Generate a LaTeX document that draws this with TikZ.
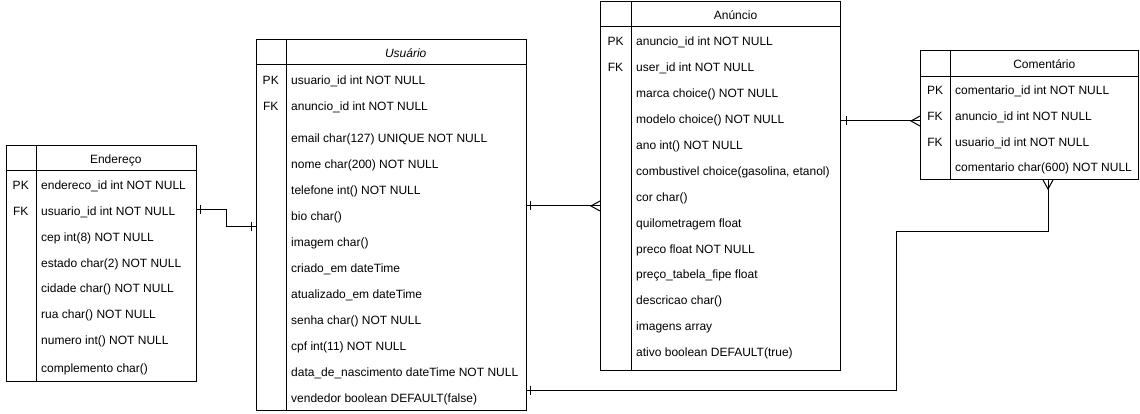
\documentclass[tikz,border=0pt]{standalone}
\usepackage{fontspec}
\setmainfont{Liberation Sans}
\usepackage{tikz}
\usetikzlibrary{
  calc,
  positioning
}
\newcommand{\erfont}{\fontsize{12pt}{14pt}\selectfont}
\tikzset{
  tbl/.style={draw, line width=1pt, anchor=north west, inner sep=0pt},
  sepline/.style={line width=1pt},
  hdr/.style={font=\erfont, inner sep=0pt, text height=10.5pt, text depth=0pt},
  keycell/.style={font=\erfont, inner sep=0pt, text height=10.5pt, text depth=0pt},
  field/.style={font=\erfont, anchor=west, inner sep=0pt, text height=10.5pt, text depth=0pt},
  conn/.style={line width=1pt},
  erone/.pic={\draw[conn] (0,-4.5) -- (0,4.5);},
  ermany/.pic={\draw[conn] (0,-5) -- (-9,0) -- (0,5);}
}

\begin{document}
\begin{tikzpicture}[x=1pt, y=-1pt]
  \useasboundingbox (0,0) rectangle (1140,414);

  % Endereco table
  \node[tbl, minimum width=190pt, minimum height=235.5pt] (endereco) at (5.5,145) {};
  \draw[sepline] ([yshift=-26pt]endereco.north west) -- ([yshift=-26pt]endereco.north east)
                 ([xshift=30.5pt]endereco.north west) -- ([xshift=30.5pt]endereco.south west);
  \node[hdr] (endereco-title) at (115.75,158) {Endereço};
  \node[keycell] (e1k) at (20.75,184) {PK};
  \node[keycell] (e2k) at (20.75,210) {FK};
  \node[field] (e1) at (41,184) {endereco\_id int NOT NULL};
  \node[field] (e2) at (41,210) {usuario\_id int NOT NULL};
  \node[field] (e3) at (41,236) {cep int(8) NOT NULL};
  \node[field] (e4) at (41,262) {estado char(2) NOT NULL};
  \node[field] (e5) at (41,287.5) {cidade char() NOT NULL};
  \node[field] (e6) at (41,313.5) {rua char() NOT NULL};
  \node[field] (e7) at (41,339.5) {numero int() NOT NULL};
  \node[field] (e8) at (41,367) {complemento char()};

  % Usuario table
  \node[tbl, minimum width=270pt, minimum height=371pt] (usuario) at (255.5,39) {};
  \draw[sepline] ([yshift=-26pt]usuario.north west) -- ([yshift=-26pt]usuario.north east)
                 ([xshift=30.5pt]usuario.north west) -- ([xshift=30.5pt]usuario.south west);
  \node[hdr, font=\erfont\itshape] (usuario-title) at (405.75,52) {Usuário};
  \node[keycell] (u1k) at (270.75,79) {PK};
  \node[keycell] (u2k) at (270.75,105) {FK};
  \node[field] (u1) at (291,79) {usuario\_id int NOT NULL};
  \node[field] (u2) at (291,105) {anuncio\_id int NOT NULL};
  \node[field] (u3) at (291,137) {email char(127) UNIQUE NOT NULL};
  \node[field] (u4) at (291,163) {nome char(200) NOT NULL};
  \node[field] (u5) at (291,189) {telefone int() NOT NULL};
  \node[field] (u6) at (291,215) {bio char()};
  \node[field] (u7) at (291,241) {imagem char()};
  \node[field] (u8) at (291,267) {criado\_em dateTime};
  \node[field] (u9) at (291,293) {atualizado\_em dateTime};
  \node[field] (u10) at (291,319) {senha char() NOT NULL};
  \node[field] (u11) at (291,345) {cpf int(11) NOT NULL};
  \node[field] (u12) at (291,371) {data\_de\_nascimento dateTime NOT NULL};
  \node[field] (u13) at (291,397) {vendedor boolean DEFAULT(false)};

  % Anuncio table
  \node[tbl, minimum width=240pt, minimum height=369pt] (anuncio) at (600,1) {};
  \draw[sepline] ([yshift=-26pt]anuncio.north west) -- ([yshift=-26pt]anuncio.north east)
                 ([xshift=31pt]anuncio.north west) -- ([xshift=31pt]anuncio.south west);
  \node[hdr] (anuncio-title) at (735.5,14) {Anúncio};
  \node[keycell] (a1k) at (615.5,40) {PK};
  \node[keycell] (a2k) at (615.5,66) {FK};
  \node[field] (a1) at (636,40) {anuncio\_id int NOT NULL};
  \node[field] (a2) at (636,66) {user\_id int NOT NULL};
  \node[field] (a3) at (636,92) {marca choice() NOT NULL};
  \node[field] (a4) at (636,118) {modelo choice() NOT NULL};
  \node[field] (a5) at (636,144) {ano int() NOT NULL};
  \node[field] (a6) at (636,170) {combustivel choice(gasolina, etanol)};
  \node[field] (a7) at (636,196) {cor char()};
  \node[field] (a8) at (636,222) {quilometragem float};
  \node[field] (a9) at (636,248) {preco float NOT NULL};
  \node[field] (a10) at (636,273) {preço\_tabela\_fipe float};
  \node[field] (a11) at (636,299) {descricao char()};
  \node[field] (a12) at (636,325) {imagens array};
  \node[field] (a13) at (636,351) {ativo boolean DEFAULT(true)};

  % Comentario table
  \node[tbl, minimum width=218pt, minimum height=128.5pt] (comentario) at (920,50.5) {};
  \draw[sepline] ([yshift=-26pt]comentario.north west) -- ([yshift=-26pt]comentario.north east)
                 ([xshift=30.5pt]comentario.north west) -- ([xshift=30.5pt]comentario.south west);
  \node[hdr] (comentario-title) at (1044.25,63.5) {Comentário};
  \node[keycell] (c1k) at (935,89) {PK};
  \node[keycell] (c2k) at (935,115) {FK};
  \node[keycell] (c3k) at (935,141) {FK};
  \node[field] (c1) at (955,89) {comentario\_id int NOT NULL};
  \node[field] (c2) at (955,115) {anuncio\_id int NOT NULL};
  \node[field] (c3) at (955,141) {usuario\_id int NOT NULL};
  \node[field] (c4) at (955,166) {comentario char(600) NOT NULL};

  % Relations
  \draw[conn] (endereco.east |- e2) -| (226,226) -- (usuario.west |- 0,226);
  \pic at ($(endereco.east |- e2)+(4,0)$) {erone};
  \pic at ($(usuario.west |- 0,226)+(-4,0)$) {erone};

  \draw[conn] (usuario.east |- 0,206) -- (anuncio.west |- 0,206);
  \pic at ($(usuario.east |- 0,206)+(4,0)$) {erone};
  \pic at (anuncio.west |- 0,206) {ermany};

  \draw[conn] (anuncio.east |- 0,121) -- (comentario.west |- 0,121);
  \pic at ($(anuncio.east |- 0,121)+(5,0)$) {erone};
  \pic at (comentario.west |- 0,121) {ermany};

  \draw[conn] (comentario.south -| 1048,0) |- (896,231) |- (usuario.east |- 0,390);
  \pic[rotate=90] at (comentario.south -| 1048,0) {ermany};
  \pic at ($(usuario.east |- 0,390)+(4,0)$) {erone};
\end{tikzpicture}
\end{document}
